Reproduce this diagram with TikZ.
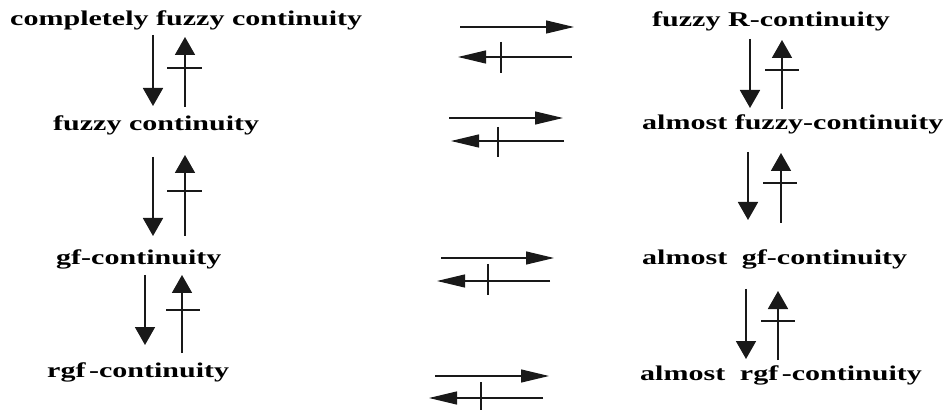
\documentclass[tikz,border=0pt]{standalone}
\usepackage{fontspec}
\setmainfont{Liberation Serif}
\newfontfamily\lab[FakeStretch=1.43]{Liberation Serif Bold}
\usetikzlibrary{arrows.meta}
\begin{document}
\begin{tikzpicture}[x=1pt,y=-1pt,
  lbl/.style={anchor=base west, inner sep=0pt, font=\lab\fontsize{21}{25}\selectfont},
  varr/.style={-{Triangle[length=18pt,width=20pt]}, line width=1.8pt, color=black!90},
  harr/.style={-{Triangle[length=28pt,width=13pt]}, line width=1.2pt, color=black!90},
  tickmark/.style={line width=1.4pt, color=black!90}]
\useasboundingbox (0,0) rectangle (944,411);
% labels
\node[lbl] (cfc) at (10,26) {completely fuzzy continuity};
\node[lbl] (frc) at (652,27) {fuzzy R-continuity};
\node[lbl] (fc) at (53,131) {fuzzy continuity};
\node[lbl] (afc) at (642,130) {almost fuzzy-continuity};
\node[lbl] (gfc) at (56,265) {gf-continuity};
\node[lbl] (agfc) at (642,265) {almost\hspace{0.7em}gf-continuity};
\node[lbl] (rgfc) at (47,377) {rgf\,-continuity};
\node[lbl] (argfc) at (640,380) {almost\hspace{0.7em}rgf\,-continuity};
% left column vertical arrows
\draw[varr] (153,35) -- (153,106);
\draw[varr] (185,107) -- (185,37);
\draw[tickmark] (167,68) -- (202,68);
\draw[varr] (153,157) -- (153,236);
\draw[varr] (185,236) -- (185,155);
\draw[tickmark] (167,191) -- (202,191);
\draw[varr] (145,275) -- (145,345);
\draw[varr] (182,353) -- (182,275);
\draw[tickmark] (166,310) -- (200,310);
% right column vertical arrows
\draw[varr] (750,39) -- (750,108);
\draw[varr] (782,109) -- (782,40);
\draw[tickmark] (765,70) -- (799,70);
\draw[varr] (748,152) -- (748,220);
\draw[varr] (781,223) -- (781,153);
\draw[tickmark] (763,183) -- (797,183);
\draw[varr] (746,289) -- (746,359);
\draw[varr] (778,360) -- (778,291);
\draw[tickmark] (761,321) -- (795,321);
% middle horizontal arrows
\draw[harr] (460,27) -- (574,27);
\draw[harr] (572,57) -- (458,57);
\draw[tickmark] (501,42) -- (501,73);
\draw[harr] (449,118) -- (563,118);
\draw[harr] (564,141) -- (451,141);
\draw[tickmark] (498,127) -- (498,157);
\draw[harr] (441,258) -- (554,258);
\draw[harr] (550,281) -- (437,281);
\draw[tickmark] (488,264) -- (488,295);
\draw[harr] (435,376) -- (549,376);
\draw[harr] (543,398) -- (429,398);
\draw[tickmark] (481,382) -- (481,410);
\end{tikzpicture}
\end{document}
